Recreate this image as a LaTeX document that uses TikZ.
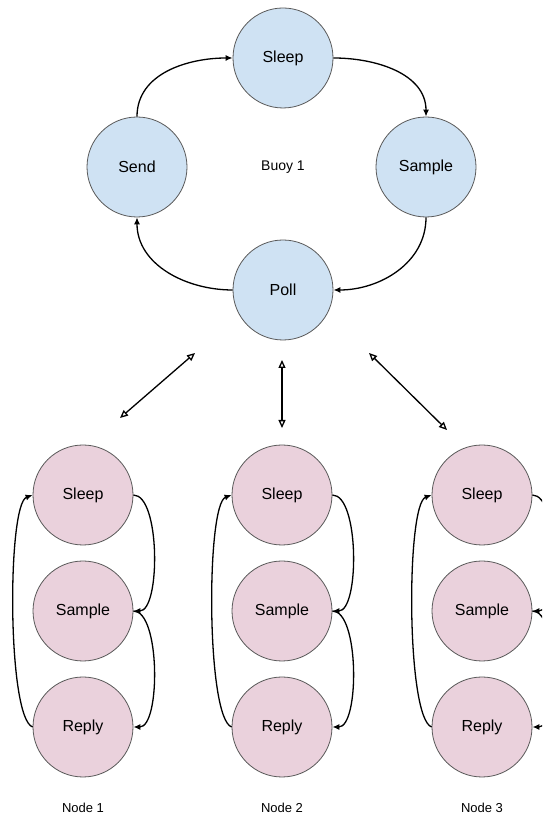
\documentclass[tikz,border=0pt]{standalone}
\usepackage{fontspec}
\setmainfont{Liberation Sans}
\usetikzlibrary{arrows.meta}

\definecolor{buoyblue}{HTML}{CFE2F3}
\definecolor{nodepink}{HTML}{EAD1DC}
\definecolor{rimgrey}{HTML}{595959}

\tikzset{
  buoystate/.style={circle, draw=rimgrey, line width=0.8pt, fill=buoyblue,
    minimum size=100pt, inner sep=0pt, font=\fontsize{16}{19}\selectfont},
  nodestate/.style={buoystate, fill=nodepink},
  trans/.style={line width=1.3pt, -{Latex[length=7pt,width=6pt]}},
  link/.style={line width=1.3pt, {Triangle[open,length=8pt,width=7pt]}-{Triangle[open,length=8pt,width=7pt]}}
}

\begin{document}
\begin{tikzpicture}[x=1pt, y=1pt]
        \useasboundingbox (0,0) rectangle (542,818);
        \clip (0,0) rectangle (542,818);
        % buoy cycle
        \node [buoystate] (sleep) at (283,760) {Sleep};
        \node [buoystate] (send) at (137,651) {Send};
        \node [buoystate] (sample) at (426,651) {Sample};
        \node [buoystate] (poll) at (283,528) {Poll};
        \node [font=\fontsize{14}{17}\selectfont] (buoy) at (283,651) {Buoy 1};
        \draw [trans] (send.north) to[out=90,in=180] (sleep.west);
        \draw [trans] (sleep.east) to[out=0,in=90] (sample.north);
        \draw [trans] (sample.south) to[out=-90,in=0] (poll.east);
        \draw [trans] (poll.west) to[out=180,in=-90] (send.south);
        % links to the nodes
        \coordinate (la) at (195,465);
        \coordinate (lb) at (120,400);
        \coordinate (ma) at (282,458);
        \coordinate (mb) at (282,390);
        \coordinate (ra) at (369,465);
        \coordinate (rb) at (447,388);
        \draw [link] (la) -- (lb);
        \draw [link] (ma) -- (mb);
        \draw [link] (ra) -- (rb);
        % the three nodes
        \foreach \x/\n in {83/1, 282/2, 482/3} {
          \node [nodestate] (sleep\n) at (\x,323) {Sleep};
          \node [nodestate] (sample\n) at (\x,207) {Sample};
          \node [nodestate] (reply\n) at (\x,91) {Reply};
          \node [font=\fontsize{13}{15}\selectfont] (label\n) at (\x,10) {Node \n};
          \draw [trans] (sleep\n.east) to[out=0,in=0,looseness=0.6] (sample\n.east);
          \draw [trans] (sample\n.east) to[out=0,in=0,looseness=0.6] (reply\n.east);
          \draw [trans] (reply\n.west) to[out=160,in=200,looseness=0.3] (sleep\n.west);
        }
      \end{tikzpicture}
\end{document}
